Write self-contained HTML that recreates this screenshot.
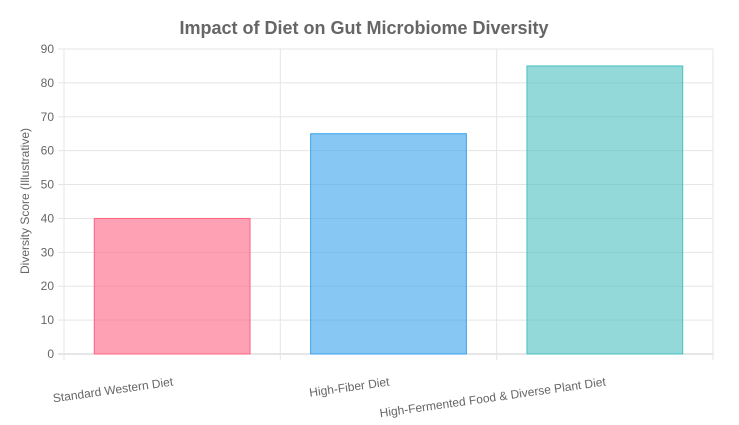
<!DOCTYPE html>
<html><head><meta charset="utf-8"><style>
html,body{margin:0;padding:0;background:#fff;}
svg{display:block;font-family:"Liberation Sans",Arial,sans-serif;}
</style></head><body>
<svg id="chart" width="739" height="425" viewBox="0 0 739 425">
<text x="364" y="34" text-anchor="middle" font-size="18" font-weight="bold" fill="#666">Impact of Diet on Gut Microbiome Diversity</text>
<text transform="translate(29,201) rotate(-90)" text-anchor="middle" font-size="12" fill="#666">Diversity Score (Illustrative)</text>
<g id="grid"></g><g id="bars"></g><g id="labels"></g>
</svg>
<script>
const categories = ["Standard Western Diet","High-Fiber Diet","High-Fermented Food & Diverse Plant Diet"];
const values = [40, 65, 85];
const yTicks = [0,10,20,30,40,50,60,70,80,90];
const fills = ["rgba(255,99,132,0.6)","rgba(54,162,235,0.6)","rgba(75,192,192,0.6)"];
const strokes = ["rgb(255,99,132)","rgb(54,162,235)","rgb(75,192,192)"];
const NS="http://www.w3.org/2000/svg";
const L=64,R=713,T=49,B=354,yMax=90;
const y=v=>B-(v/yMax)*(B-T);
const band=(R-L)/categories.length;
const xc=i=>L+band*(i+0.5);
function mk(tag,attrs,parent){const e=document.createElementNS(NS,tag);for(const k in attrs)e.setAttribute(k,attrs[k]);parent.appendChild(e);return e;}
const grid=document.getElementById('grid'),bars=document.getElementById('bars'),labels=document.getElementById('labels');
yTicks.forEach(t=>{
  const ln=mk('line',{x1:L-6,x2:R,y1:y(t),y2:y(t),stroke:t===0?'#ccc':'#e5e5e5','stroke-width':1},grid);
  
  
  const tx=mk('text',{x:L-10,y:y(t)+4,'text-anchor':'end','font-size':12,fill:'#666'},grid);
  tx.textContent=t;
  
  
});
for(let i=0;i<=categories.length;i++){
  const gx=L+band*i;
  const ln=mk('line',{x1:gx,x2:gx,y1:T,y2:B+6,stroke:'#e5e5e5','stroke-width':1},grid);
  
  
}
categories.forEach((c,i)=>{
  const w=band*0.72;
  const r=mk('rect',{x:xc(i)-w/2,y:y(values[i]),width:w,height:B-y(values[i]),fill:fills[i],stroke:strokes[i],'stroke-width':1},bars);
  
  
  const tx=mk('text',{transform:`translate(${xc(i)},${376}) rotate(-8)`,'text-anchor':'end','font-size':12,fill:'#666',dy:'0.8em'},labels);
  tx.textContent=c;
  
  
});
</script>
</body></html>
